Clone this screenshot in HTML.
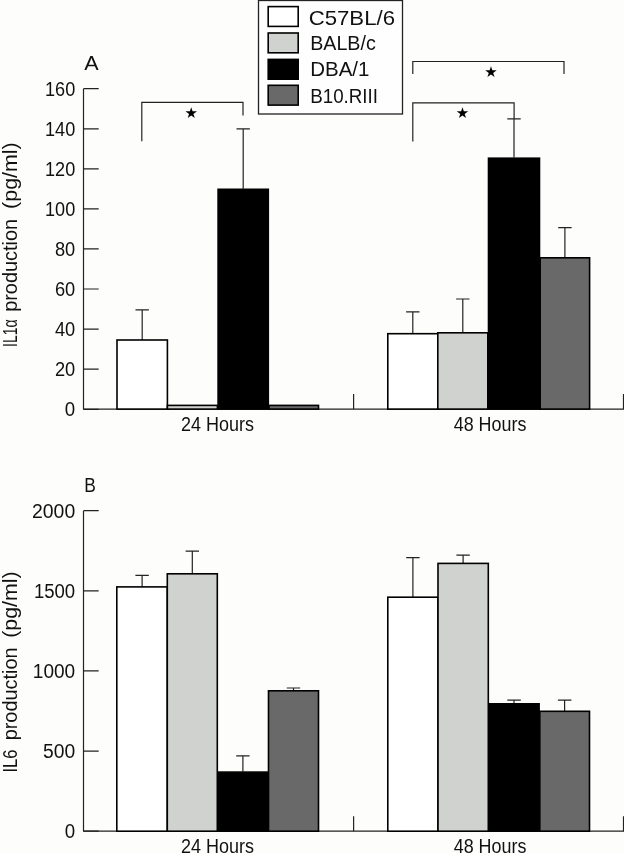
<!DOCTYPE html>
<html lang="en">
<head>
<meta charset="utf-8">
<title>IL1α and IL6 production</title>
<style>
html,body{margin:0;padding:0;background:#fdfdfc;}
body{width:624px;height:853px;overflow:hidden;}
svg{display:block;}
text{font-family:"Liberation Sans", sans-serif;fill:#111;}
.ax{stroke:#222;stroke-width:1.2;fill:none;}
.eb{stroke:#222;stroke-width:1.2;fill:none;}
.bar{stroke:#000;stroke-width:1.6;}
.star{font-family:"DejaVu Sans", sans-serif;font-size:15px;fill:#000;}
</style>
</head>
<body>
<svg width="624" height="853" viewBox="0 0 624 853">
<rect x="0" y="0" width="624" height="853" fill="#fdfdfc"/>

<rect x="258.5" y="0.5" width="144" height="113.5" fill="#fefefe" stroke="#222" stroke-width="1.3"/>
<rect x="268.2" y="6.6" width="30" height="19.8" fill="#ffffff" class="bar"/>
<rect x="268.2" y="33.0" width="30" height="19.8" fill="#d0d2d0" class="bar"/>
<rect x="268.2" y="59.4" width="30" height="19.8" fill="#000000" class="bar"/>
<rect x="268.2" y="85.3" width="30" height="19.8" fill="#696969" class="bar"/>
<text x="308.7" y="24.5" font-size="21" text-anchor="start" textLength="86.3" lengthAdjust="spacingAndGlyphs">C57BL/6</text>
<text x="310.2" y="50.2" font-size="21" text-anchor="start" textLength="65.6" lengthAdjust="spacingAndGlyphs">BALB/c</text>
<text x="310.2" y="76.2" font-size="21" text-anchor="start" textLength="59.2" lengthAdjust="spacingAndGlyphs">DBA/1</text>
<text x="310.2" y="103.0" font-size="21" text-anchor="start" textLength="67.8" lengthAdjust="spacingAndGlyphs">B10.RIII</text>
<path class="ax" d="M83.5 88.7 V409.1 M83 409.1 H624"/>
<path class="ax" d="M83.5 88.7 H98.7 M83.5 128.8 H98.7 M83.5 168.8 H98.7 M83.5 208.8 H98.7 M83.5 248.9 H98.7 M83.5 289.0 H98.7 M83.5 329.1 H98.7 M83.5 369.2 H98.7 M83.5 409.3 H98.7 "/>
<path class="ax" d="M353.6 394.1 V409.1 M623.5 394.1 V409.1"/>
<text x="75.2" y="95.5" font-size="19.5" text-anchor="end" textLength="30.2" lengthAdjust="spacingAndGlyphs">160</text>
<text x="75.2" y="135.6" font-size="19.5" text-anchor="end" textLength="30.2" lengthAdjust="spacingAndGlyphs">140</text>
<text x="75.2" y="175.6" font-size="19.5" text-anchor="end" textLength="30.2" lengthAdjust="spacingAndGlyphs">120</text>
<text x="75.2" y="215.6" font-size="19.5" text-anchor="end" textLength="30.2" lengthAdjust="spacingAndGlyphs">100</text>
<text x="75.2" y="255.7" font-size="19.5" text-anchor="end" textLength="20.3" lengthAdjust="spacingAndGlyphs">80</text>
<text x="75.2" y="295.8" font-size="19.5" text-anchor="end" textLength="20.3" lengthAdjust="spacingAndGlyphs">60</text>
<text x="75.2" y="335.9" font-size="19.5" text-anchor="end" textLength="20.3" lengthAdjust="spacingAndGlyphs">40</text>
<text x="75.2" y="376.0" font-size="19.5" text-anchor="end" textLength="20.3" lengthAdjust="spacingAndGlyphs">20</text>
<text x="75.2" y="416.1" font-size="19.5" text-anchor="end" textLength="10.4" lengthAdjust="spacingAndGlyphs">0</text>
<path class="eb" d="M142.2 340.0 V309.8 M135.5 309.8 H148.9"/>
<path class="eb" d="M243.2 188.7 V128.9 M236.5 128.9 H249.9"/>
<path class="eb" d="M412.8 333.7 V311.8 M406.1 311.8 H419.5"/>
<path class="eb" d="M462.8 332.8 V299.0 M456.1 299.0 H469.5"/>
<path class="eb" d="M514.0 157.6 V118.8 M507.3 118.8 H520.7"/>
<path class="eb" d="M564.9 257.8 V227.7 M558.2 227.7 H571.6"/>
<rect x="117.0" y="340.0" width="50.4" height="69.1" fill="#ffffff" class="bar"/>
<rect x="167.4" y="405.4" width="50.0" height="3.7" fill="#d0d2d0" class="bar"/>
<rect x="218.1" y="189.3" width="50.2" height="219.8" fill="#000000" class="bar"/>
<rect x="269.0" y="405.4" width="49.5" height="3.7" fill="#696969" class="bar"/>
<rect x="387.8" y="333.7" width="50.0" height="75.4" fill="#ffffff" class="bar"/>
<rect x="437.8" y="332.8" width="50.0" height="76.3" fill="#d0d2d0" class="bar"/>
<rect x="488.5" y="158.2" width="51.0" height="250.9" fill="#000000" class="bar"/>
<rect x="540.2" y="257.8" width="49.4" height="151.3" fill="#696969" class="bar"/>
<text x="181.0" y="431" font-size="20" text-anchor="start" textLength="73" lengthAdjust="spacingAndGlyphs">24 Hours</text>
<text x="453.7" y="431" font-size="20" text-anchor="start" textLength="72.7" lengthAdjust="spacingAndGlyphs">48 Hours</text>
<text x="84.3" y="70.3" font-size="20.5" text-anchor="start" textLength="14.4" lengthAdjust="spacingAndGlyphs">A</text>
<path class="eb" d="M141.8 141.3 V102.3 H243 V115.6"/>
<path class="eb" d="M412.8 74 V61.5 H564 V74"/>
<path class="eb" d="M412.8 141.4 V102.8 H514.1 V119"/>
<text class="star" x="191.3" y="117.7" text-anchor="middle">★</text>
<text class="star" x="491.1" y="76.8" text-anchor="middle">★</text>
<text class="star" x="462.6" y="118.1" text-anchor="middle">★</text>
<text transform="translate(17.3 347.0) rotate(-90)" font-size="20.5" textLength="27.6" lengthAdjust="spacingAndGlyphs">IL1α</text>
<text transform="translate(17.3 311.8) rotate(-90)" font-size="20.5" textLength="92.8" lengthAdjust="spacingAndGlyphs">production</text>
<text transform="translate(17.3 208.9) rotate(-90)" font-size="20.5" textLength="66.6" lengthAdjust="spacingAndGlyphs">(pg/ml)</text>
<path class="ax" d="M83.5 510.7 V831.2 M83 831.2 H624"/>
<path class="ax" d="M83.5 510.7 H98.7 M83.5 590.8 H98.7 M83.5 670.9 H98.7 M83.5 751.1 H98.7 M83.5 831.2 H98.7 "/>
<path class="ax" d="M353.6 816.2 V831.2 M623.5 816.2 V831.2"/>
<text x="75.2" y="517.5" font-size="19.5" text-anchor="end" textLength="43.2" lengthAdjust="spacingAndGlyphs">2000</text>
<text x="75.2" y="597.6" font-size="19.5" text-anchor="end" textLength="41.3" lengthAdjust="spacingAndGlyphs">1500</text>
<text x="75.2" y="677.7" font-size="19.5" text-anchor="end" textLength="42.4" lengthAdjust="spacingAndGlyphs">1000</text>
<text x="75.2" y="757.9" font-size="19.5" text-anchor="end" textLength="32.2" lengthAdjust="spacingAndGlyphs">500</text>
<text x="75.2" y="838.0" font-size="19.5" text-anchor="end" textLength="10.4" lengthAdjust="spacingAndGlyphs">0</text>
<path class="eb" d="M142.1 586.9 V575.4 M135.4 575.4 H148.8"/>
<path class="eb" d="M192.3 573.8 V551.2 M185.6 551.2 H199.0"/>
<path class="eb" d="M242.9 771.5 V755.8 M236.2 755.8 H249.6"/>
<path class="eb" d="M293.5 690.8 V688.0 M286.8 688.0 H300.2"/>
<path class="eb" d="M412.9 597.2 V557.7 M406.2 557.7 H419.6"/>
<path class="eb" d="M463.1 563.4 V555.1 M456.4 555.1 H469.8"/>
<path class="eb" d="M514.0 703.2 V700.1 M507.3 700.1 H520.8"/>
<path class="eb" d="M564.6 711.3 V700.1 M557.9 700.1 H571.4"/>
<rect x="116.8" y="586.9" width="50.5" height="244.3" fill="#ffffff" class="bar"/>
<rect x="167.3" y="573.8" width="50.0" height="257.4" fill="#d0d2d0" class="bar"/>
<rect x="218.0" y="772.1" width="49.8" height="59.1" fill="#000000" class="bar"/>
<rect x="268.5" y="690.8" width="50.0" height="140.4" fill="#696969" class="bar"/>
<rect x="387.8" y="597.2" width="50.2" height="234.0" fill="#ffffff" class="bar"/>
<rect x="438.0" y="563.4" width="50.3" height="267.8" fill="#d0d2d0" class="bar"/>
<rect x="489.0" y="703.8" width="50.1" height="127.4" fill="#000000" class="bar"/>
<rect x="539.8" y="711.3" width="49.7" height="119.9" fill="#696969" class="bar"/>
<text x="181.0" y="852.8" font-size="20" text-anchor="start" textLength="73" lengthAdjust="spacingAndGlyphs">24 Hours</text>
<text x="453.7" y="852.8" font-size="20" text-anchor="start" textLength="72.7" lengthAdjust="spacingAndGlyphs">48 Hours</text>
<text x="84.3" y="492.0" font-size="20.5" text-anchor="start" textLength="11.6" lengthAdjust="spacingAndGlyphs">B</text>
<text transform="translate(17.3 772.6) rotate(-90)" font-size="20.5" textLength="23.0" lengthAdjust="spacingAndGlyphs">IL6</text>
<text transform="translate(17.3 740.3) rotate(-90)" font-size="20.5" textLength="92.8" lengthAdjust="spacingAndGlyphs">production</text>
<text transform="translate(17.3 637.8) rotate(-90)" font-size="20.5" textLength="66.5" lengthAdjust="spacingAndGlyphs">(pg/ml)</text>
</svg>
</body>
</html>
